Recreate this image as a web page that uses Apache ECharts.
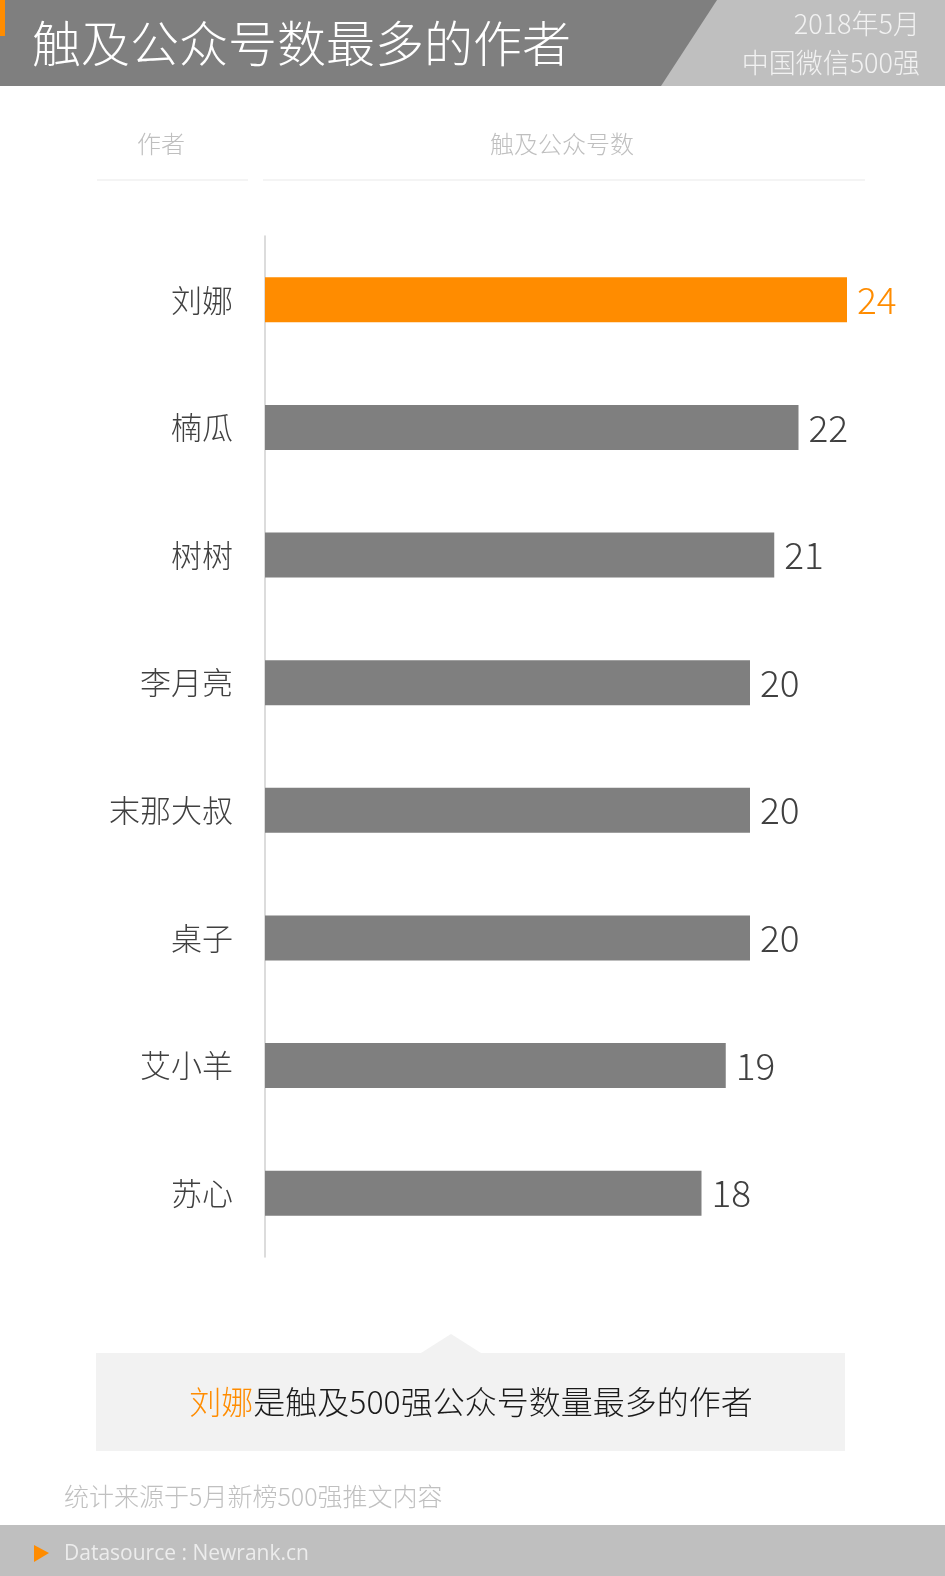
<!DOCTYPE html>
<html>
<head>
<meta charset="utf-8">
<script src="https://cdn.jsdelivr.net/npm/echarts@6/dist/echarts.min.js"></script>
<style>
  html, body { margin: 0; padding: 0; background: #fff; }
  #chart { width: 945px; height: 1576px; }
</style>
</head>
<body>
<div id="chart"></div>
<script>
// data
const authors = ['刘娜', '楠瓜', '树树', '李月亮', '末那大叔', '桌子', '艾小羊', '苏心'];
const accountCounts = [24, 22, 21, 20, 20, 20, 19, 18];
const highlightIndex = 0;

const FONT = '"Noto Sans CJK SC", "Microsoft YaHei", sans-serif';
const ORANGE = '#ff8c00';
const GREY_BAR = '#7f7f7f';

const chart = echarts.init(document.getElementById('chart'));

const option = {
  backgroundColor: '#fff',
  animation: false,
  grid: { left: 265, right: 98, top: 236, height: 1021 },
  xAxis: {
    type: 'value',
    min: 0,
    max: 24,
    show: false
  },
  yAxis: {
    type: 'category',
    inverse: true,
    data: authors,
    axisLine: { show: true, lineStyle: { color: '#d0d0d0', width: 1.5 } },
    axisTick: { show: false },
    axisLabel: {
      margin: 32,
      fontFamily: FONT,
      fontWeight: 300,
      fontSize: 31,
      color: '#404040'
    }
  },
  series: [{
    type: 'bar',
    barWidth: 45,
    data: accountCounts.map((v, i) => ({
      value: v,
      itemStyle: { color: i === highlightIndex ? ORANGE : GREY_BAR },
      label: { color: i === highlightIndex ? ORANGE : '#404040' }
    })),
    label: {
      show: true,
      position: 'right',
      distance: 10,
      fontFamily: FONT,
      fontWeight: 300,
      fontSize: 37
    }
  }],
  graphic: [
    // header band
    { type: 'rect', shape: { x: 0, y: 0, width: 945, height: 86 }, style: { fill: '#bfbfbf' }, silent: true },
    { type: 'polygon', shape: { points: [[0, 0], [717, 0], [661, 86], [0, 86]] }, style: { fill: '#7f7f7f' }, silent: true },
    { type: 'rect', shape: { x: 0, y: 0, width: 5, height: 36 }, style: { fill: ORANGE }, silent: true },
    { type: 'text', x: 32, y: 43, style: { text: '触及公众号数最多的作者', fill: '#fff', font: '300 49px ' + FONT, textVerticalAlign: 'middle' }, silent: true },
    { type: 'text', x: 920, y: 24, style: { text: '2018年5月', fill: '#f2f2f2', font: '300 27px ' + FONT, textAlign: 'right', textVerticalAlign: 'middle' }, silent: true },
    { type: 'text', x: 920, y: 63, style: { text: '中国微信500强', fill: '#f2f2f2', font: '300 27px ' + FONT, textAlign: 'right', textVerticalAlign: 'middle' }, silent: true },

    // column headers
    { type: 'text', x: 161, y: 144, style: { text: '作者', fill: '#bfbfbf', font: '300 24px ' + FONT, textAlign: 'center', textVerticalAlign: 'middle' }, silent: true },
    { type: 'text', x: 562, y: 144, style: { text: '触及公众号数', fill: '#bfbfbf', font: '300 24px ' + FONT, textAlign: 'center', textVerticalAlign: 'middle' }, silent: true },
    { type: 'line', shape: { x1: 97, y1: 180, x2: 248, y2: 180 }, style: { stroke: '#f0f0f0', lineWidth: 1.5 }, silent: true },
    { type: 'line', shape: { x1: 263, y1: 180, x2: 865, y2: 180 }, style: { stroke: '#f0f0f0', lineWidth: 1.5 }, silent: true },

    // callout box
    { type: 'rect', shape: { x: 96, y: 1353, width: 749, height: 98 }, style: { fill: '#f2f2f2' }, silent: true },
    { type: 'polygon', shape: { points: [[421, 1353], [451, 1334], [481, 1353]] }, style: { fill: '#f2f2f2' }, silent: true },
    {
      type: 'text', x: 471, y: 1402,
      style: {
        text: '{hl|刘娜}{txt|是触及500强公众号数量最多的作者}',
        textAlign: 'center', textVerticalAlign: 'middle',
        rich: {
          hl: { fill: ORANGE, font: '300 32px ' + FONT },
          txt: { fill: '#1a1a1a', font: '300 32px ' + FONT }
        }
      },
      silent: true
    },

    // note
    { type: 'text', x: 64, y: 1496, style: { text: '统计来源于5月新榜500强推文内容', fill: '#c0c0c0', font: '300 25px ' + FONT, textVerticalAlign: 'middle' }, silent: true },

    // footer
    { type: 'rect', shape: { x: 0, y: 1525, width: 945, height: 51 }, style: { fill: '#bfbfbf' }, silent: true },
    { type: 'polygon', shape: { points: [[34, 1545], [49, 1553], [34, 1562]] }, style: { fill: ORANGE }, silent: true },
    { type: 'text', x: 64, y: 1554, style: { text: 'Datasource : Newrank.cn', fill: '#ececec', font: '21px "Open Sans", ' + FONT, textVerticalAlign: 'middle' }, silent: true }
  ]
};

chart.setOption(option);
</script>
</body>
</html>
